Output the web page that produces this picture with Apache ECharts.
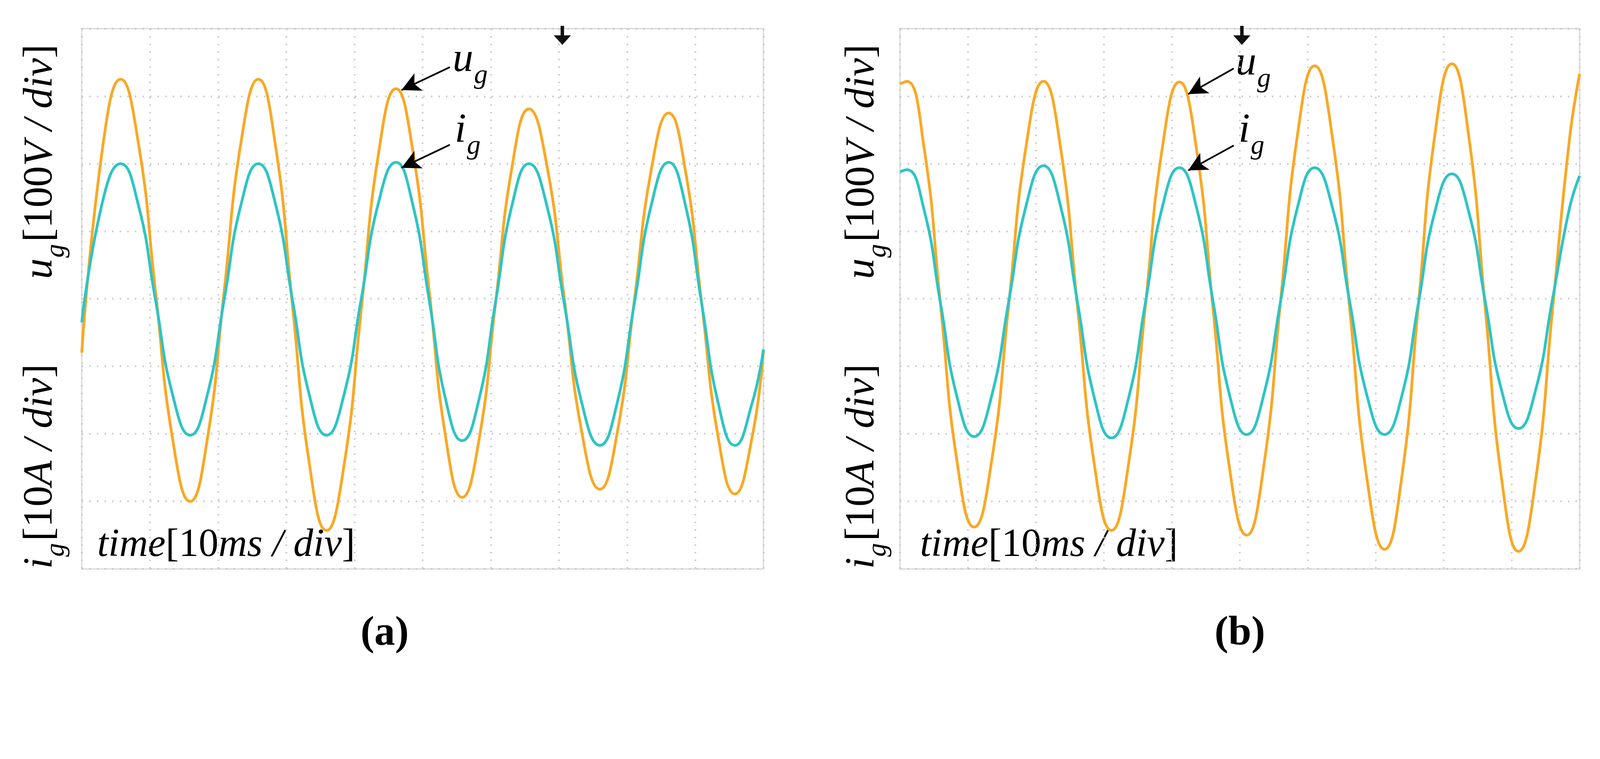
<!DOCTYPE html>
<html><head><meta charset="utf-8">
<script src="https://cdn.jsdelivr.net/npm/echarts@6/dist/echarts.min.js"></script>
<style>html,body{margin:0;padding:0;background:#fff;overflow:hidden}#c{width:100vw;height:100vh}</style>
</head><body><div id="c"></div>
<script>
// time in divisions (10 ms/div); values in vertical divisions
const timeA = [0,0.32,0.57,0.825,1.08,1.335,1.59,1.84,2.09,2.34,2.59,2.84,3.09,3.34,3.59,3.845,4.10,4.355,4.61,4.85,5.10,5.34,5.58,5.825,6.07,6.315,6.56,6.82,7.08,7.34,7.6,7.85,8.105,8.36,8.61,8.85,9.095,9.34,9.58,9.83,10];
const ugA = [-0.8,2.34,3.25,2.34,0.125,-2.09,-3.0,-2.09,0.125,2.34,3.25,2.28,-0.09,-2.45,-3.43,-2.48,-0.16,2.16,3.11,2.23,0.085,-2.06,-2.94,-2.10,-0.065,1.97,2.81,1.99,-0.005,-2.0,-2.82,-2.01,-0.035,1.94,2.75,1.93,-0.07,-2.07,-2.89,-2.07,-0.77];
const igA = [-0.35,1.5,2.0,1.41,-0.01,-1.43,-2.02,-1.43,-0.01,1.41,2.0,1.41,-0.01,-1.43,-2.02,-1.43,0.0,1.43,2.02,1.42,-0.04,-1.50,-2.1,-1.50,-0.05,1.40,2.0,1.39,-0.085,-1.56,-2.17,-1.56,-0.075,1.41,2.02,1.41,-0.075,-1.56,-2.17,-1.56,-0.75];
const timeB = [0,0.1,0.35,0.595,0.84,1.09,1.345,1.60,1.855,2.11,2.36,2.61,2.86,3.11,3.36,3.61,3.86,4.11,4.36,4.605,4.85,5.1,5.35,5.6,5.85,6.1,6.36,6.615,6.87,7.13,7.38,7.625,7.87,8.12,8.365,8.61,8.855,9.1,9.35,9.6,9.85,10];
const ugB = [3.18,3.22,2.26,-0.08,-2.42,-3.38,-2.42,-0.08,2.26,3.22,2.25,-0.105,-2.46,-3.43,-2.46,-0.11,2.24,3.21,2.23,-0.145,-2.52,-3.5,-2.49,-0.025,2.44,3.45,2.40,-0.13,-2.66,-3.71,-2.66,-0.115,2.43,3.48,2.43,-0.13,-2.69,-3.74,-2.70,-0.17,2.36,3.33];
const igB = [1.88,1.91,1.33,-0.065,-1.46,-2.04,-1.45,-0.035,1.38,1.97,1.38,-0.045,-1.47,-2.06,-1.48,-0.06,1.36,1.94,1.36,-0.035,-1.43,-2.01,-1.43,-0.035,1.36,1.94,1.36,-0.035,-1.43,-2.01,-1.45,-0.08,1.29,1.85,1.30,-0.035,-1.37,-1.92,-1.36,-0.01,1.34,1.82];
// annotation arrows [fromX, fromY, toX, toY] in divisions
const arrowsA = [[5.40,3.43,4.69,3.09],[5.40,2.28,4.69,1.94]];
const arrowsB = [[4.91,3.41,4.24,3.03],[4.91,2.27,4.24,1.90]];
const triggerX = [7.05, 5.03];

const W = window.innerWidth, S = W/4638;
const p = v => v*S;
const ORANGE = '#F9A825', CYAN = '#2EC4C4';
const serif = '"Liberation Serif","DejaVu Serif",serif';
const grids = [{left:p(237),width:p(1976),top:p(83),height:p(1567)},{left:p(2609),width:p(1970),top:p(83),height:p(1567)}];
const pair = (t,a) => a.map((v,i)=>[t[i],v]);

function axes(i){
  const sl = {show:true,lineStyle:{color:'#c8c8c8',type:[p(4),p(18)],width:p(5)}};
  return {
    x:{type:'value',gridIndex:i,min:0,max:10,interval:1,axisLabel:{show:false},axisTick:{show:false},axisLine:{show:false},splitLine:sl},
    y:{type:'value',gridIndex:i,min:-4,max:4,interval:1,axisLabel:{show:false},axisTick:{show:false},axisLine:{show:false},splitLine:sl}
  };
}
const a0=axes(0), a1=axes(1);
function arrowLines(arr){
  return {symbol:['none','arrow'],symbolSize:[p(42),p(55)],silent:true,label:{show:false},
    lineStyle:{color:'#000',width:p(5),type:'solid'},
    data: arr.map(r=>[{coord:[r[0],r[1]]},{coord:[r[2],r[3]]}])};
}
function trig(x){
  return {symbol:'path://M4,0 L6,0 L6,6 L10,6 L5,12 L0,6 L4,6 Z',symbolSize:[p(50),p(55)],itemStyle:{color:'#111'},label:{show:false},
    data:[{coord:[x,3.9]}]};
}
const series=[];
[[timeA,ugA,igA,arrowsA,0],[timeB,ugB,igB,arrowsB,1]].forEach(([t,u,ig,arr,k])=>{
  series.push({type:'line',xAxisIndex:k,yAxisIndex:k,data:pair(t,u),smooth:0.5,showSymbol:false,
    lineStyle:{color:ORANGE,width:p(8)},z:3,markLine:arrowLines(arr),markPoint:trig(triggerX[k])});
  series.push({type:'line',xAxisIndex:k,yAxisIndex:k,data:pair(t,ig),smooth:0.5,showSymbol:false,
    lineStyle:{color:CYAN,width:p(8)},z:4,
    markPoint:{symbol:'arrow',symbolSize:[p(36),p(36)],symbolRotate:90,itemStyle:{color:ORANGE},label:{show:false},
      data:[{coord:[10.05,0]}]}});
});

function richSet(fs){
  return {
    m:{fontFamily:serif,fontStyle:'italic',fontSize:p(fs),fill:'#000',lineHeight:p(fs),verticalAlign:'top'},
    s:{fontFamily:serif,fontStyle:'italic',fontSize:p(fs*0.66),fill:'#000',lineHeight:p(fs*0.66),verticalAlign:'top',padding:[p(fs*0.55),p(6),0,p(2)]},
    n:{fontFamily:serif,fontSize:p(fs),fill:'#000',lineHeight:p(fs),verticalAlign:'top'}
  };
}
const R = richSet(120);
const graphic=[];
[[118,0],[2500,1]].forEach(([x,k])=>{
  graphic.push({type:'text',x:p(x),y:p(469),rotation:Math.PI/2,style:{text:'{m|u}{s|g}{n|[100}{m|V / div}{n|]}',rich:R,align:'center',verticalAlign:'middle'}});
  graphic.push({type:'text',x:p(x),y:p(1353),rotation:Math.PI/2,style:{text:'{m|i}{s|g}{n|[10}{m|A / div}{n|]}',rich:R,align:'center',verticalAlign:'middle'}});
});
const RT = richSet(115);
[282,2667].forEach(x=>{
  graphic.push({type:'text',x:p(x),y:p(1525),style:{text:'{m|time}{n|[10}{m|ms / div}{n|]}',rich:RT}});
});
[[1312,115,'u'],[1318,320,'i'],[3582,125,'u'],[3590,320,'i']].forEach(([x,y,c])=>{
  graphic.push({type:'text',x:p(x),y:p(y),style:{text:'{m|'+c+'}{s|g}',rich:R}});
});
graphic.push({type:'text',x:p(1115),y:p(1838),style:{text:'(a)',font:'bold '+p(120)+'px '+serif,fill:'#000',align:'center',verticalAlign:'middle'}});
graphic.push({type:'text',x:p(3594),y:p(1838),style:{text:'(b)',font:'bold '+p(120)+'px '+serif,fill:'#000',align:'center',verticalAlign:'middle'}});
grids.forEach(g=>graphic.push({type:'rect',shape:{x:g.left,y:g.top,width:g.width,height:g.height},
  style:{fill:'none',stroke:'#dcdcdc',lineWidth:p(4)},silent:true,z:-1}));

const chart=echarts.init(document.getElementById('c'));
chart.setOption({backgroundColor:'#fff',animation:false,grid:grids,
  xAxis:[a0.x,a1.x],yAxis:[a0.y,a1.y],series:series,graphic:graphic});
</script></body></html>
